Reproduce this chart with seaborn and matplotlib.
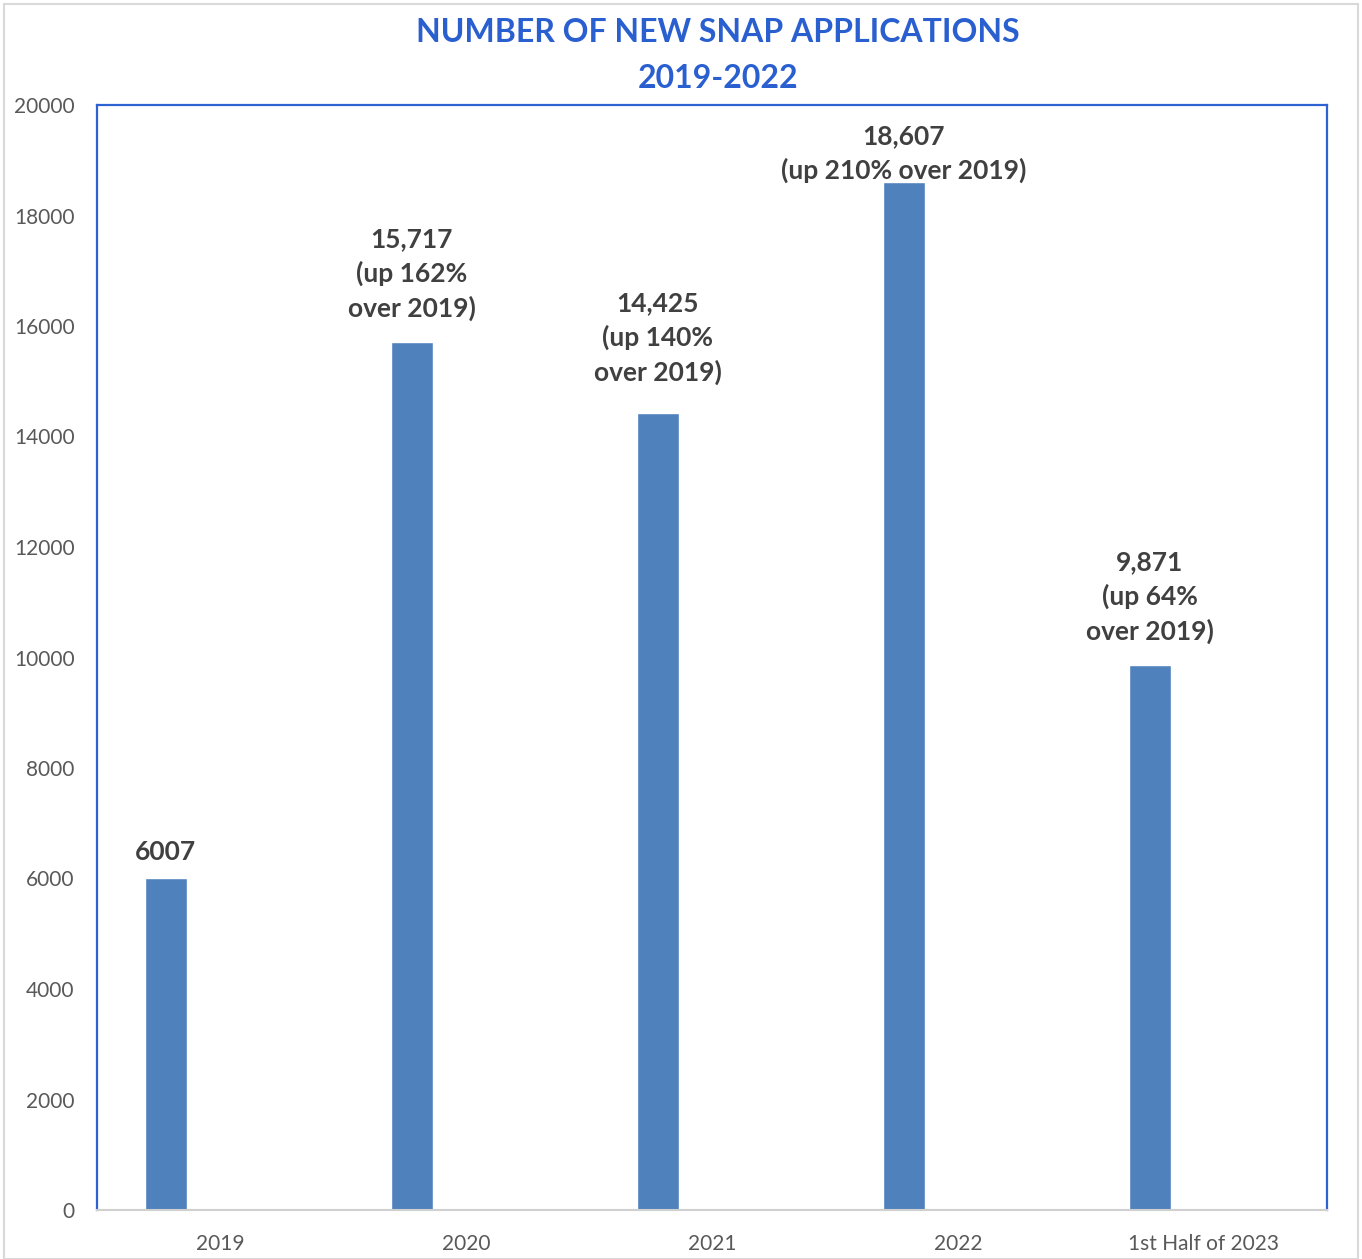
import pandas as pd
import matplotlib.pyplot as plt
import seaborn as sns
from matplotlib.patches import Rectangle

# data
periods = ["2019", "2020", "2021", "2022", "1st Half of 2023"]
applications = [6007, 15717, 14425, 18607, 9871]
bar_labels = [
    "6007",
    "15,717\n(up 162%\nover 2019)",
    "14,425\n(up 140%\nover 2019)",
    "18,607\n(up 210% over 2019)",
    "9,871\n(up 64%\nover 2019)",
]
# label gap above each bar (points), placed by hand in the original
label_gaps = [10.5, 15, 20, -1, 15]

BAR_BLUE = "#4F81BD"
TITLE_BLUE = "#2A5FD0"
FRAME_BLUE = "#2E62D2"
TEXT_GRAY = "#595959"
LABEL_DARK = "#404040"

sns.set_style("white")
plt.rcParams["font.family"] = ["Lato", "DejaVu Sans"]

df = pd.DataFrame({"period": periods, "applications": applications})

fig = plt.figure(figsize=(13.62, 12.59), dpi=100)
ax = fig.add_axes([97 / 1362, 1 - 1210 / 1259, 1230 / 1362, 1105 / 1259])

sns.barplot(data=df, x="period", y="applications", color=BAR_BLUE,
            width=0.171, saturation=1, ax=ax)

# Excel-style: bars sit left of the category centre
for p in ax.patches:
    p.set_x(p.get_x() - 0.22)

for p, txt, gap in zip(ax.patches, bar_labels, label_gaps):
    ax.annotate(txt, (p.get_x() + p.get_width() / 2, p.get_height()),
                xytext=(0, gap), textcoords="offset points",
                ha="center", va="bottom", fontsize=19, fontweight="bold",
                color=LABEL_DARK, linespacing=1.45)

ax.set_xlim(-0.5, len(periods) - 0.5)
ax.set_ylim(0, 20000)
ax.set_yticks(range(0, 20001, 2000))
ax.set_xlabel("")
ax.set_ylabel("")
ax.tick_params(axis="both", length=0, labelsize=15, labelcolor=TEXT_GRAY)
ax.tick_params(axis="x", pad=17)
ax.tick_params(axis="y", pad=16)

for side in ["left", "top", "right"]:
    ax.spines[side].set_color(FRAME_BLUE)
    ax.spines[side].set_linewidth(1.6)
ax.spines["bottom"].set_color("#D0D0D0")
ax.spines["bottom"].set_linewidth(1.5)

fig.text(718 / 1362, 1 - 33 / 1259, "NUMBER OF NEW SNAP APPLICATIONS",
         ha="center", va="center", fontsize=23, fontweight="bold", color=TITLE_BLUE)
fig.text(718 / 1362, 1 - 79 / 1259, "2019-2022",
         ha="center", va="center", fontsize=23, fontweight="bold", color=TITLE_BLUE)

# outer chart-area border
fig.patches.append(Rectangle((4 / 1362, 0), 1 - 8 / 1362, 1 - 4 / 1259,
                             transform=fig.transFigure, fill=False,
                             edgecolor="#D9D9D9", linewidth=1.5))

fig.savefig("out.png", dpi=100)
plt.close(fig)
